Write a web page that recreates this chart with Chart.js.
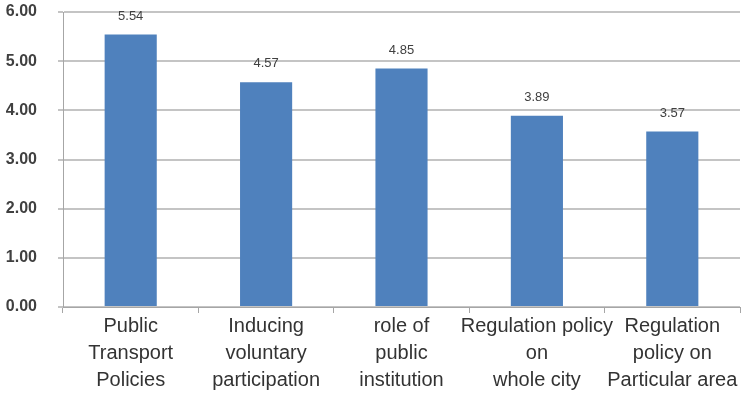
<!DOCTYPE html>
<html>
<head>
<meta charset="utf-8">
<script src="https://cdn.jsdelivr.net/npm/chart.js@4"></script>
<style>
  html, body { margin: 0; padding: 0; background: #fff; overflow: hidden; }
  #wrap { width: 755px; height: 394px; }
</style>
</head>
<body>
<div id="wrap"><canvas id="barChart"></canvas></div>
<script>
const categories = [
    ['Public', 'Transport', 'Policies'],
    ['Inducing', 'voluntary', 'participation'],
    ['role of', 'public', 'institution'],
    ['Regulation policy', 'on', 'whole city'],
    ['Regulation', 'policy on', 'Particular area']
];
const scores = [5.54, 4.57, 4.85, 3.89, 3.57];
const yTicks = [0, 1, 2, 3, 4, 5, 6];

// draws the value above each bar
const valueLabels = {
    id: 'valueLabels',
    afterDatasetsDraw(chart) {
        const ctx = chart.ctx;
        const meta = chart.getDatasetMeta(0);
        ctx.save();
        ctx.font = '13px "Liberation Sans", sans-serif';
        ctx.fillStyle = '#404040';
        ctx.textAlign = 'center';
        ctx.textBaseline = 'bottom';
        meta.data.forEach((bar, i) => {
            ctx.fillText(scores[i].toFixed(2), bar.x, bar.y - 12);
        });
        ctx.restore();
    }
};

document.addEventListener("DOMContentLoaded", function () {
    const barCtx = document.getElementById('barChart').getContext('2d');

    new Chart(barCtx, {
        type: 'bar',
        data: {
            labels: categories,
            datasets: [
                { data: scores, backgroundColor: '#4F81BD', barPercentage: 0.385, categoryPercentage: 1 }
            ]
        },
        options: {
            responsive: true, maintainAspectRatio: false, animation: false,
            layout: { padding: { left: 0, right: 15, top: 12, bottom: 0 } },
            plugins: { legend: { display: false }, tooltip: { enabled: false } },
            scales: {
                x: {
                    grid: { drawOnChartArea: false, drawTicks: true, tickLength: 6, color: '#a6a6a6' },
                    border: { color: '#a6a6a6' },
                    ticks: {
                        maxRotation: 0, autoSkip: false, padding: 0,
                        color: '#333',
                        font: { family: '"Liberation Sans", sans-serif', size: 20, lineHeight: '27px' }
                    }
                },
                y: {
                    min: 0, max: 6,
                    afterBuildTicks: axis => { axis.ticks = yTicks.map(v => ({ value: v })); },
                    afterFit: axis => { axis.width = 63; axis.paddingTop = 0; axis.paddingBottom = 0; },
                    grid: { color: '#c4c4c4', lineWidth: 2, tickLength: 5 },
                    border: { color: '#a6a6a6' },
                    ticks: {
                        padding: 21, color: '#404040',
                        font: { family: '"Liberation Sans", sans-serif', size: 16, weight: 'bold' },
                        callback: v => v.toFixed(2)
                    }
                }
            }
        },
        plugins: [valueLabels]
    });
});
</script>
</body>
</html>
